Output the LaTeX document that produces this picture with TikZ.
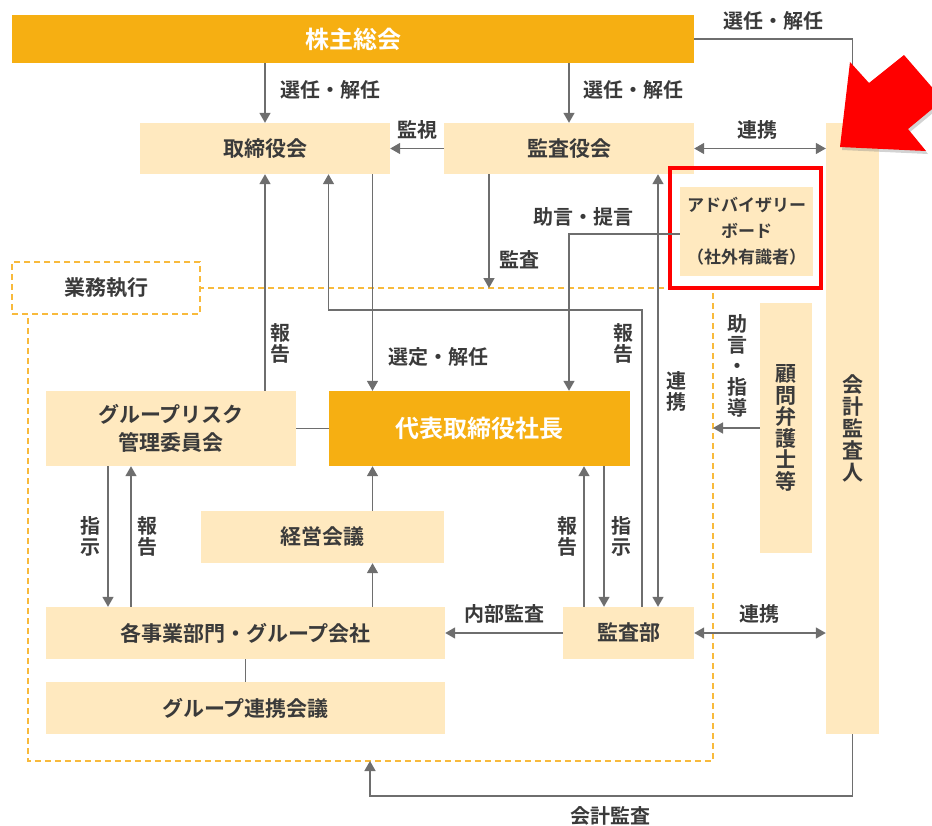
\documentclass[tikz,border=0pt]{standalone}
\usepackage{fontspec}
\setmainfont{Noto Sans CJK JP}[BoldFont={Noto Sans CJK JP Bold}]
\usetikzlibrary{arrows.meta,shadows}
\definecolor{dk}{HTML}{F6AF12}
\definecolor{lt}{HTML}{FFE9BF}
\definecolor{lnc}{HTML}{6E6E6E}
\definecolor{tx}{HTML}{3A3A3A}
\definecolor{dsc}{HTML}{F8BA3C}
\tikzset{
  box/.style={fill=lt, draw=none, inner sep=0pt, text=tx, font=\bfseries\fontsize{21}{28}\selectfont, align=center},
  dbox/.style={fill=dk, draw=none, inner sep=0pt, text=white, font=\bfseries\fontsize{24}{28}\selectfont},
  arr/.style={draw=lnc, line width=1.5pt, -{Triangle[length=10pt,width=11pt]}},
  dar/.style={draw=lnc, line width=1.5pt, {Triangle[length=10pt,width=11pt]}-{Triangle[length=10pt,width=11pt]}},
  pl/.style={draw=lnc, line width=1.5pt},
  lbl/.style={text=tx, font=\bfseries\fontsize{20}{21}\selectfont, inner sep=0pt},
  vl/.style={lbl, align=center},
  dsh/.style={draw=dsc, line width=1.5pt, dash pattern=on 6pt off 4pt}
}
\begin{document}
\begin{tikzpicture}[x=1pt,y=-1pt]
\useasboundingbox (0,0) rectangle (932,825);
% dashed business-execution area
\draw[dsh] (28,288) rectangle (713,761);
% boxes
\node[dbox, minimum width=682pt, minimum height=48pt] (sh) at (353,39) {株主総会};
\node[box, minimum width=250pt, minimum height=51pt] (tb) at (265,148.5) {取締役会};
\node[box, minimum width=250pt, minimum height=51pt] (kr) at (569,148.5) {監査役会};
\node[box, minimum width=53pt, minimum height=611pt, font=\bfseries\fontsize{21}{21.8}\selectfont] (ka) at (852.5,428.5) {会\\計\\監\\査\\人};
\node[box, minimum width=188pt, minimum height=52pt, fill=white, dsh, text=tx] (gy) at (106,288) {業務執行};
\node[box, minimum width=52pt, minimum height=250pt, font=\bfseries\fontsize{21}{21.6}\selectfont] (kb) at (786,428) {顧\\問\\弁\\護\\士\\等};
\node[box, minimum width=250pt, minimum height=75pt] (gr) at (171,428.5) {グループリスク\\管理委員会};
\node[dbox, minimum width=301pt, minimum height=75pt] (ceo) at (479.5,428.5) {代表取締役社長};
\node[box, minimum width=243pt, minimum height=52pt] (km) at (322.5,537) {経営会議};
\node[box, minimum width=399pt, minimum height=52pt] (jg) at (245.5,633) {各事業部門・グループ会社};
\node[box, minimum width=399pt, minimum height=52pt] (gk) at (245.5,708) {グループ連携会議};
\node[box, minimum width=131pt, minimum height=52pt] (ks) at (628.5,633) {監査部};
% advisory board
\draw[red, line width=4pt] (670,168) rectangle (821,288);
\node[box, minimum width=133pt, minimum height=89pt, font=\bfseries\fontsize{17}{26}\selectfont] (abi) at (746.5,231.5) {アドバイザリー\\ボード\\（社外有識者）};
% helper coordinates
\coordinate (xA) at (328.5,0);
\coordinate (xB) at (372.5,0);
\coordinate (xC) at (489,0);
\coordinate (xD) at (569,0);
\coordinate (xE) at (584,0);
\coordinate (xF) at (604,0);
\coordinate (xG) at (642,0);
\coordinate (xH) at (658,0);
\coordinate (xI) at (108,0);
\coordinate (xJ) at (131,0);
\coordinate (yL) at (0,310);
\coordinate (yAd) at (0,234);
\coordinate (yD) at (0,288);
\coordinate (yB) at (0,796);
\coordinate (db) at (370,761);
\coordinate (dr) at (713,428);
% connectors
\draw[arr] (tb.north |- sh.south) -- (tb.north);
\draw[arr] (kr.north |- sh.south) -- (kr.north);
\draw[arr] (sh.east) -| (ka.north);
\draw[arr] (kr.west) -- (tb.east);
\draw[dar] (kr.east) -- (ka.west |- kr.east);
\draw[arr] (tb.south |- gr.north) -- (tb.south);
\draw[arr] (ks.north -| xG) -- (xG |- yL) -- (xA |- yL) -- (tb.south -| xA);
\draw[arr] (tb.south -| xB) -- (ceo.north -| xB);
\draw[arr] (kr.south -| xC) -- (xC |- yD);
\draw[arr] (abi.west |- yAd) -| (ceo.north -| xD);
\draw[dar] (ks.north -| xH) -- (kr.south -| xH);
\draw[arr] (ceo.south -| xF) -- (ks.north -| xF);
\draw[arr] (ks.north -| xE) -- (ceo.south -| xE);
\draw[arr] (gr.south -| xI) -- (jg.north -| xI);
\draw[arr] (jg.north -| xJ) -- (gr.south -| xJ);
\draw[arr] (km.north -| xB) -- (ceo.south -| xB);
\draw[arr] (jg.north -| xB) -- (km.south -| xB);
\draw[arr] (ks.west) -- (jg.east);
\draw[dar] (ks.east) -- (ka.west |- ks.east);
\draw[pl] (jg.south) -- (gk.north);
\draw[pl] (gr.east) -- (ceo.west);
\draw[arr] (ka.south) |- (db |- yB) -- (db);
\draw[arr] (kb.west |- dr) -- (dr);
% labels
\node[lbl] (l1) at (330,90) {選任・解任};
\node[lbl] (l2) at (633,90) {選任・解任};
\node[lbl] (l3) at (773,21) {選任・解任};
\node[lbl] (l4) at (417,130) {監視};
\node[lbl] (l5) at (757,130) {連携};
\node[lbl] (l6) at (583,217) {助言・提言};
\node[lbl] (l7) at (519,260) {監査};
\node[vl] (l8) at (280,343) {報\\告};
\node[vl] (l9) at (623,343) {報\\告};
\node[lbl] (l10) at (438,357) {選定・解任};
\node[vl] (l11) at (676,391) {連\\携};
\node[vl] (l12) at (737,366) {助\\言\\・\\指\\導};
\node[vl] (l13) at (90,536) {指\\示};
\node[vl] (l14) at (147,536) {報\\告};
\node[vl] (l15) at (567,536) {報\\告};
\node[vl] (l16) at (621,536) {指\\示};
\node[lbl] (l17) at (504,614) {内部監査};
\node[lbl] (l18) at (759,614) {連携};
\node[lbl] (l19) at (610,816) {会計監査};
% red pointer arrow
\begin{scope}
\clip (0,0) rectangle (932,825);
\fill[red, drop shadow={opacity=0.35, shadow xshift=2pt, shadow yshift=-3pt}] (840,147) -- (850,62) -- (869,83) -- (904,55) -- (943,100) -- (908,129) -- (926,151) -- cycle;
\end{scope}
\end{tikzpicture}
\end{document}
